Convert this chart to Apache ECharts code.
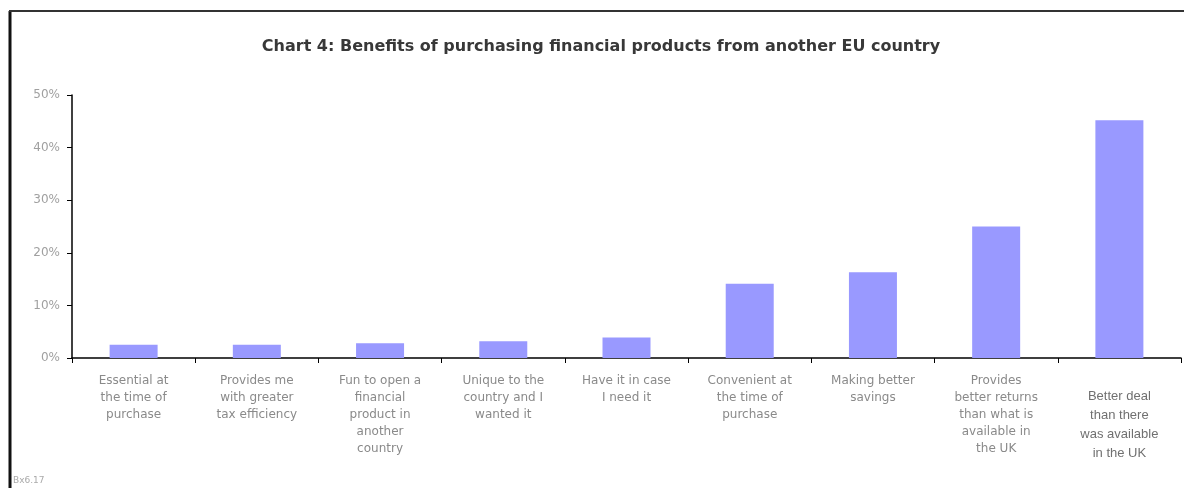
<!DOCTYPE html>
<html>
<head>
<meta charset="utf-8">
<script src="https://cdn.jsdelivr.net/npm/echarts@6/dist/echarts.min.js"></script>
<style>
  html, body { margin: 0; padding: 0; background: #fff; }
  #chart { width: 1184px; height: 488px; }
</style>
</head>
<body>
<div id="chart"></div>
<script>
// Benefits cited for buying financial products in another EU country (% of respondents)
const categories = [
  'Essential at\nthe time of\npurchase',
  'Provides me\nwith greater\ntax efficiency',
  'Fun to open a\nfinancial\nproduct in\nanother\ncountry',
  'Unique to the\ncountry and I\nwanted it',
  'Have it in case\nI need it',
  'Convenient at\nthe time of\npurchase',
  'Making better\nsavings',
  'Provides\nbetter returns\nthan what is\navailable in\nthe UK',
  'Better deal\nthan there\nwas available\nin the UK'
];
const shares = [2.5, 2.5, 2.8, 3.2, 3.9, 14.1, 16.3, 25.0, 45.2];
const yTicks = { min: 0, max: 50, interval: 10 };
const titleText = 'Chart 4: Benefits of purchasing financial products from another EU country';
const footText = 'Bx6.17';

const chart = echarts.init(document.getElementById('chart'), null, { renderer: 'canvas' });

chart.setOption({
  backgroundColor: '#ffffff',
  animation: false,
  title: {
    text: titleText,
    left: 596,
    top: 34,
    textAlign: 'center',
    textStyle: {
      fontFamily: 'DejaVu Sans',
      fontSize: 16,
      fontWeight: 'bold',
      color: '#383838'
    }
  },
  graphic: [
    { type: 'line', shape: { x1: 10, y1: 11, x2: 10, y2: 488 }, style: { stroke: '#111', lineWidth: 3 } },
    { type: 'line', shape: { x1: 9, y1: 11, x2: 1184, y2: 11 }, style: { stroke: '#333', lineWidth: 2 } },
    { type: 'text', left: 13, top: 476, style: { text: footText, fontSize: 9, fill: '#aaaaaa', fontFamily: 'DejaVu Sans' } }
  ],
  grid: { left: 72, right: 3, top: 95, bottom: 130 },
  xAxis: {
    type: 'category',
    data: categories,
    axisLine: { lineStyle: { color: '#000', width: 1.5 } },
    axisTick: { show: true, alignWithLabel: false, length: 5, lineStyle: { color: '#000' } },
    axisLabel: {
      interval: 0,
      margin: 14,
      fontFamily: 'DejaVu Sans',
      fontSize: 12,
      color: '#8a8a8a',
      lineHeight: 17,
      formatter: function (v, i) {
        if (i === categories.length - 1) return '{s| }\n{b|' + v + '}';
        return v;
      },
      rich: {
        s: { lineHeight: 15, fontSize: 6 },
        b: { fontFamily: 'Liberation Sans', fontSize: 13, lineHeight: 19, color: '#707070' }
      }
    },
    splitLine: { show: false }
  },
  yAxis: {
    type: 'value',
    min: yTicks.min,
    max: yTicks.max,
    interval: yTicks.interval,
    axisLine: { show: true, lineStyle: { color: '#000', width: 1.5 } },
    axisTick: { show: true, length: 5, lineStyle: { color: '#000' } },
    axisLabel: {
      formatter: '{value}%',
      margin: 12,
      fontFamily: 'DejaVu Sans',
      fontSize: 12,
      color: '#a0a0a0'
    },
    splitLine: { show: false }
  },
  series: [{
    type: 'bar',
    data: shares,
    barWidth: 48,
    itemStyle: { color: '#9999ff' }
  }]
});
</script>
</body>
</html>
